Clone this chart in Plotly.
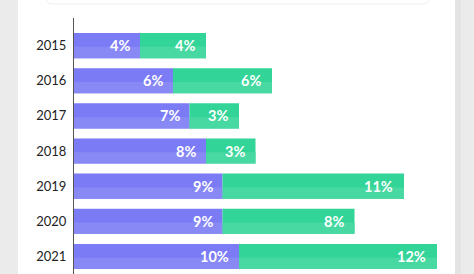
import plotly.graph_objects as go

years = ["2015", "2016", "2017", "2018", "2019", "2020", "2021"]
series_a = [4, 6, 7, 8, 9, 9, 10]
series_b = [4, 6, 3, 3, 11, 8, 12]
labels_a = [f"{v}%" for v in series_a]
labels_b = [f"{v}%" for v in series_b]

PURPLE = "#7b7bf6"
PURPLE_L = "#8989f6"
GREEN = "#33d497"
GREEN_L = "#48d8a2"

W, H = 474, 274
L, T = 74, 18
PW, PH = W - L, H - T

def px(x):
    return (x - L) / PW

def py(y):
    return (H - y) / PH

fig = go.Figure()
cum = [a + b for a, b in zip(series_a, series_b)]
BW = 0.714
fig.add_trace(go.Bar(y=years, x=series_a, base=0, orientation="h", width=BW,
                     marker=dict(color=PURPLE, line=dict(width=0)), hoverinfo="skip"))
fig.add_trace(go.Bar(y=years, x=series_b, base=series_a, orientation="h", width=BW,
                     marker=dict(color=GREEN, line=dict(width=0)), hoverinfo="skip"))
fig.add_trace(go.Bar(y=years, x=series_a, base=0, orientation="h", width=BW * 0.45,
                     offset=BW * 0.05, marker=dict(color=PURPLE_L, line=dict(width=0)), hoverinfo="skip"))
fig.add_trace(go.Bar(y=years, x=series_b, base=series_a, orientation="h", width=BW * 0.45,
                     offset=BW * 0.05, marker=dict(color=GREEN_L, line=dict(width=0)), hoverinfo="skip"))

annotations = []
for i, y in enumerate(years):
    annotations.append(dict(x=series_a[i], y=i, xref="x", yref="y", text=labels_a[i],
                            xanchor="right", xshift=-8, showarrow=False,
                            font=dict(family="Lato", size=14.5, color="white", weight="bold")))
    annotations.append(dict(x=cum[i], y=i, xref="x", yref="y", text=labels_b[i],
                            xanchor="right", xshift=-9, showarrow=False,
                            font=dict(family="Lato", size=14.5, color="white", weight="bold")))

shapes = [
    dict(type="rect", xref="paper", yref="paper", x0=px(18), x1=px(455), y0=py(H), y1=py(0),
         fillcolor="white", line=dict(width=0), layer="below"),
    dict(type="rect", xref="paper", yref="paper", x0=px(455), x1=px(461), y0=py(H), y1=py(0),
         fillcolor="#e3e3e3", line=dict(width=0), layer="below"),
    dict(type="path", xref="paper", yref="paper",
         path=(f"M {px(45)},{py(-5)} L {px(45)},{py(-4)} Q {px(45)},{py(4)} {px(53)},{py(4)} "
               f"L {px(422)},{py(4)} Q {px(430)},{py(4)} {px(430)},{py(-4)} L {px(430)},{py(-5)}"),
         line=dict(color="#efefef", width=1), layer="below"),
]

fig.update_layout(
    width=W, height=H,
    margin=dict(l=L, r=0, t=T, b=0),
    paper_bgcolor="#ebebeb",
    plot_bgcolor="rgba(0,0,0,0)",
    barmode="overlay",
    showlegend=False,
    shapes=shapes,
    annotations=annotations,
    xaxis=dict(range=[0, PW / 16.5], visible=False, fixedrange=True),
    yaxis=dict(type="category", range=[6.5, -0.786], categoryorder="array", categoryarray=years,
               showline=True, linecolor="#555555", linewidth=1, showgrid=False,
               zeroline=False, ticks="outside", ticklen=4, tickcolor="rgba(0,0,0,0)",
               tickfont=dict(family="Lato", size=13, color="#222222"), fixedrange=True),
)

fig.write_html("out.html")
